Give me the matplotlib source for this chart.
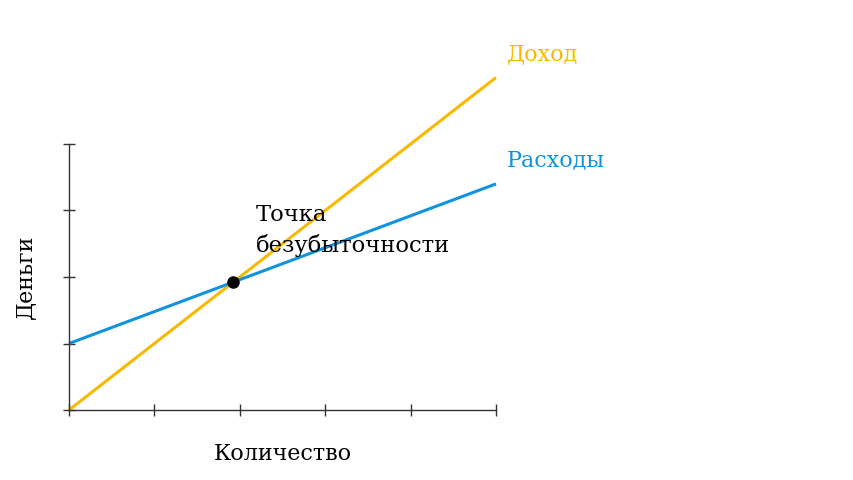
import numpy as np
import matplotlib
matplotlib.use("Agg")
import matplotlib.pyplot as plt

# данные: количество, доход, расходы
QTY      = [0, 5]
REVENUE  = [0, 5.0]
COSTS    = [1.0, 3.4]
X_TICKS  = [0, 1, 2, 3, 4, 5]
Y_TICKS  = [0, 1, 2, 3, 4]

C_REV  = "#f8b900"
C_COST = "#0f93e0"

plt.rcParams["font.family"] = ["DejaVu Serif"]

fig = plt.figure(figsize=(8.54, 4.8), dpi=100)
ax = fig.add_axes([69 / 854, 70 / 480, 427 / 854, 266 / 480])

ax.plot(QTY, REVENUE, color=C_REV, lw=2.2, clip_on=False, solid_capstyle="butt")
ax.plot(QTY, COSTS, color=C_COST, lw=2.2, clip_on=False, solid_capstyle="butt")

# точка безубыточности
slope_r = (REVENUE[1] - REVENUE[0]) / (QTY[1] - QTY[0])
slope_c = (COSTS[1] - COSTS[0]) / (QTY[1] - QTY[0])
bx = (COSTS[0] - REVENUE[0]) / (slope_r - slope_c)
by = REVENUE[0] + slope_r * bx
ax.plot([bx], [by], "o", color="black", ms=8, zorder=5, clip_on=False)

ax.annotate("Точка\nбезубыточности", xy=(bx, by), xytext=(16, 37),
            textcoords="offset points", ha="left", va="center",
            fontsize=16.3, linespacing=1.45)

ax.annotate("Доход", xy=(QTY[-1], REVENUE[-1]), xytext=(8, 17),
            textcoords="offset points", ha="left", va="center",
            fontsize=16, color=C_REV, annotation_clip=False)
ax.annotate("Расходы", xy=(QTY[-1], COSTS[-1]), xytext=(8, 17),
            textcoords="offset points", ha="left", va="center",
            fontsize=16, color=C_COST, annotation_clip=False)

ax.set_xlim(0, 5)
ax.set_ylim(0, 4)
ax.set_xticks(X_TICKS)
ax.set_yticks(Y_TICKS)
ax.set_xticklabels([])
ax.set_yticklabels([])
ax.tick_params(direction="inout", length=8, width=1, color="#333333")
for s in ["top", "right"]:
    ax.spines[s].set_visible(False)
for s in ["left", "bottom"]:
    ax.spines[s].set_color("#333333")
    ax.spines[s].set_linewidth(1)

ax.set_xlabel("Количество", fontsize=16, labelpad=16)
ax.set_ylabel("Деньги", fontsize=16, labelpad=16)

fig.savefig("out.png", dpi=100)
